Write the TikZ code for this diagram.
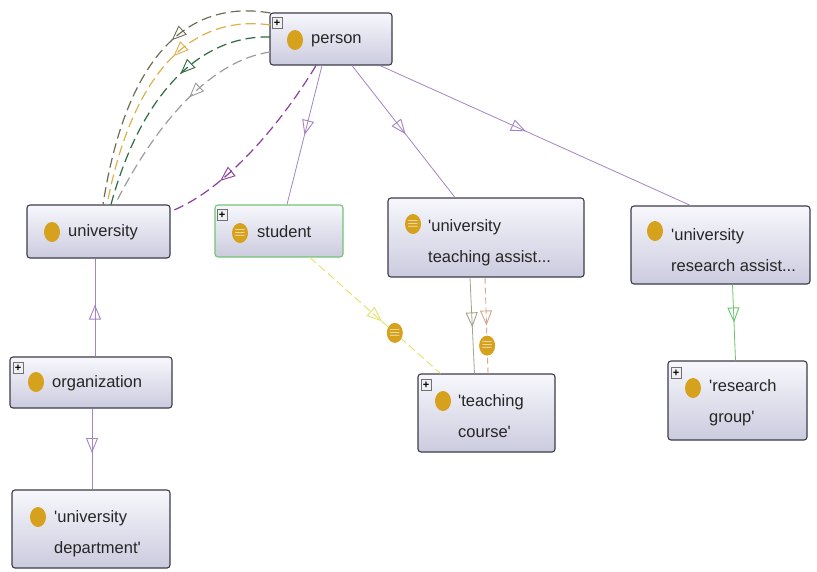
\documentclass[tikz,border=0pt]{standalone}
\usepackage{fontspec}
\newfontfamily\lbfont{Liberation Sans}
\usetikzlibrary{arrows.meta,decorations.markings,calc,shapes.geometric}

\definecolor{boxtop}{HTML}{F7F7FC}
\definecolor{boxbot}{HTML}{CBCBDF}
\definecolor{boxdraw}{HTML}{3C3C4A}
\definecolor{goldic}{HTML}{D6A21E}
\definecolor{subc}{HTML}{A584C4}
\definecolor{darkpurple}{HTML}{8A3C9C}
\definecolor{olivearc}{HTML}{6E6E56}
\definecolor{goldarc}{HTML}{DDB14A}
\definecolor{greenarc}{HTML}{2F6B40}
\definecolor{grayarc}{HTML}{9C9C9C}
\definecolor{yellowedge}{HTML}{E2E26A}
\definecolor{taolive}{HTML}{A4A48C}
\definecolor{tapink}{HTML}{D4A88E}
\definecolor{greenedge}{HTML}{6CC46C}
\definecolor{studentgreen}{HTML}{74C474}
\definecolor{plusgray}{HTML}{707078}

\tikzset{
  box/.style={rectangle, rounded corners=3pt, draw=boxdraw, line width=1.1pt,
    top color=boxtop, bottom color=boxbot, inner sep=0pt},
  lbl/.style={anchor=west, inner sep=0pt, font=\lbfont\fontsize{16.5}{31}\selectfont,
    text=black!85, align=left},
  ico/.style={ellipse, fill=goldic, minimum width=16pt, minimum height=20pt, inner sep=0pt},
  eqico/.style={ico, text=white, font=\bfseries\fontsize{15}{15}\selectfont},
  plusbox/.style={rectangle, draw=plusgray, fill=gray!12, minimum width=10pt,
    minimum height=11pt, inner sep=0pt, font=\lbfont\bfseries\fontsize{11}{11}\selectfont},
  midarr/.style args={#1/#2}{postaction={decorate, decoration={markings,
    mark=at position #1 with {\arrow[#2, line width=0.9pt]{Triangle[open, length=15pt, width=12pt]}}}}},
  dashpat/.style={dash pattern=on 10pt off 5pt, line width=1.2pt},
  subline/.style={subc, line width=0.8pt}
}

\begin{document}
\begin{tikzpicture}[x=1pt,y=-1pt]
\useasboundingbox (0,0) rectangle (817,571);
\fill[white] (0,0) rectangle (817,571);

% boxes
\node[box, minimum width=122pt, minimum height=52pt] (person) at (331,39) {};
\node[box, minimum width=143pt, minimum height=53pt] (university) at (98.5,231.5) {};
\node[box, draw=studentgreen, minimum width=128pt, minimum height=52pt] (student) at (279,231) {};
\node[box, minimum width=196pt, minimum height=79pt] (ta) at (486,237.5) {};
\node[box, minimum width=179pt, minimum height=78pt] (ra) at (720.5,245) {};
\node[box, minimum width=162pt, minimum height=51pt] (org) at (91,382.5) {};
\node[box, minimum width=158pt, minimum height=78pt] (dept) at (91,529) {};
\node[box, minimum width=137pt, minimum height=78pt] (course) at (486.5,413) {};
\node[box, minimum width=139pt, minimum height=79pt] (group) at (737.5,400.5) {};

% plus boxes
\node[plusbox] (person-p) at (277,23) {+};
\node[plusbox] (student-p) at (222,215) {+};
\node[plusbox] (org-p) at (18,368) {+};
\node[plusbox] (course-p) at (426,385) {+};
\node[plusbox] (group-p) at (676,373) {+};

% icons
\node[ico] (person-i) at (295,40) {};
\node[ico] (university-i) at (52,232) {};
\node[eqico] (student-i) at (240,233) {$\equiv$};
\node[eqico] (ta-i) at (413,224) {$\equiv$};
\node[ico] (ra-i) at (655,231) {};
\node[ico] (org-i) at (36,382) {};
\node[ico] (dept-i) at (38,517) {};
\node[ico] (course-i) at (443,401) {};
\node[ico] (group-i) at (693,388) {};

% labels
\node[lbl] (person-t) at (311,41) {person};
\node[lbl] (university-t) at (68,232) {university};
\node[lbl] (student-t) at (257,232) {student};
\node[lbl] (ta-t) at (428,243) {'university\\teaching assist...};
\node[lbl] (ra-t) at (671,250) {'university\\research assist...};
\node[lbl] (org-t) at (52,383) {organization};
\node[lbl] (dept-t) at (54,534) {'university\\department'};
\node[lbl] (course-t) at (458,416) {'teaching\\course'};
\node[lbl] (group-t) at (709,403) {'research\\group'};

% dashed arcs person -> university
\draw[olivearc, dashpat, midarr={0.37/olivearc}]
  ($(person.west)+(1,-26)$) .. controls (195,0) and (128,45) .. ($(university.north)+(4.5,0)$);
\draw[goldarc, dashpat, midarr={0.39/goldarc}]
  ($(person.west)+(1,-14)$) .. controls (200,15) and (135,60) .. ($(university.north)+(8.5,0)$);
\draw[greenarc, dashpat, midarr={0.40/greenarc}]
  ($(person.west)+(1,-2)$) .. controls (210,35) and (145,80) .. ($(university.north)+(12.5,0)$);
\draw[grayarc, dashpat, midarr={0.42/grayarc}]
  ($(person.west)+(1,13)$) .. controls (225,58) and (168,100) .. ($(university.north)+(16.5,0)$);
\draw[darkpurple, dashpat, midarr={0.72/darkpurple}]
  ($(person.south)+(-15,0)$) .. controls (280,125) and (225,190) .. ($(university.north east)+(0,7)$);

% subclass lines
\draw[subline, midarr={0.5/subc}] ($(person.south)+(-9,0)$) -- ($(student.north)+(8,0)$);
\draw[subline, midarr={0.52/subc}] ($(person.south)+(21,0)$) -- ($(ta.north)+(-31,0)$);
\draw[subline, midarr={0.47/subc}] ($(person.south)+(49,0)$) -- ($(ra.north)+(-30,0)$);
\draw[subline, midarr={0.53/subc}] ($(org.north)+(4,0)$) -- ($(university.south)+(-3.5,0)$);
\draw[subline, midarr={0.55/subc}] ($(org.south)+(1,0)$) -- ($(dept.north)+(1,0)$);

% student -> teaching course
\draw[yellowedge, dash pattern=on 8pt off 4pt, line width=0.9pt, midarr={0.55/yellowedge}]
  ($(student.south)+(31,0)$) -- node[eqico, pos=0.65] (eq1) {$\equiv$} ($(course.north)+(-46,0)$);

% ta -> teaching course
\draw[taolive, line width=0.8pt, midarr={0.52/taolive}]
  ($(ta.south)+(-16,0)$) -- ($(course.north)+(-12,0)$);
\draw[tapink, dash pattern=on 6pt off 4pt, line width=0.9pt, midarr={0.5/tapink}]
  ($(ta.south)+(-1,0)$) -- node[eqico, pos=0.71] (eq2) {$\equiv$} ($(course.north)+(1.5,0)$);

% ra -> research group
\draw[greenedge, line width=0.8pt, midarr={0.5/greenedge}]
  ($(ra.south)+(12,0)$) -- ($(group.north)+(-2,0)$);
\end{tikzpicture}
\end{document}
